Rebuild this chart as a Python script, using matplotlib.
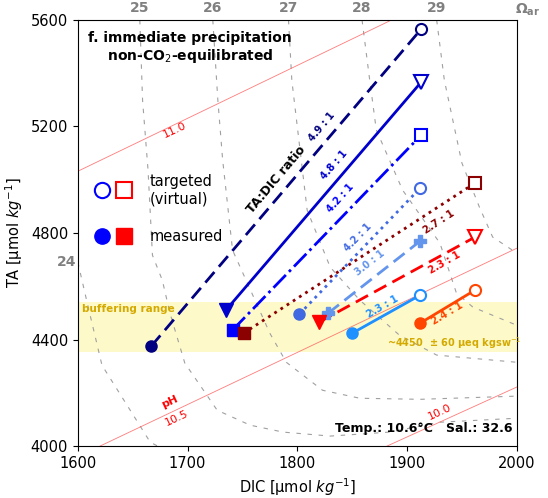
import numpy as np
import matplotlib
matplotlib.use("Agg")
import matplotlib.pyplot as plt

# measured (start) and targeted (end) points, DIC / TA in umol/kg
ratio_labels = ["4.9 : 1", "4.8 : 1", "4.2 : 1", "2.7 : 1", "4.2 : 1",
                "3.0 : 1", "2.3 : 1", "2.3 : 1", "2.4 : 1"]
dic_meas = [1667, 1735, 1741, 1751, 1802, 1828, 1820, 1850, 1912]
ta_meas = [4376, 4511, 4436, 4424, 4496, 4499, 4466, 4424, 4462]
dic_targ = [1913, 1913, 1913, 1962, 1912, 1912, 1962, 1912, 1962]
ta_targ = [5566, 5367, 5168, 4988, 4969, 4770, 4785, 4567, 4586]

colors = ["navy", "mediumblue", "blue", "darkred", "royalblue",
          "cornflowerblue", "red", "dodgerblue", "orangered"]
styles = [(0, (5, 2.5)), "-", "-.", ":", ":", (0, (5, 2.5)), (0, (5, 2.5)), "-", "-"]
markers = ["o", "v", "s", "s", "o", "P", "v", "o", "o"]
open_end = [True, True, True, True, True, False, True, True, True]

# label placement along each line (DIC, TA, rotation)
lab_pos = [(1822, 5198, 50), (1834, 5055, 49), (1839, 4931, 48), (1929, 4843, 33),
           (1855, 4785, 46), (1866, 4687, 38), (1934, 4687, 30), (1878, 4522, 30),
           (1937, 4499, 31)]

# aragonite saturation isolines
omega_levels = [24, 25, 26, 27, 28, 29]
omega_dic = [
    [1600, 1608, 1622, 1666, 1673],
    [1656.5, 1659, 1664, 1668, 1677, 1684, 1697.5, 1727, 1757, 1787, 1830, 1884, 1930, 2000],
    [1723, 1727.6, 1732, 1741, 1775, 1790, 1823, 1857, 1912, 2000],
    [1792, 1795, 1809, 1830, 1857, 1893, 1927, 2000],
    [1859, 1866, 1872, 1896, 1930, 1945, 1960, 2000],
    [1927, 1934, 1950, 1966, 1978, 2000],
]
omega_ta = [
    [4691, 4548, 4304, 4015, 4000],
    [5600, 5299, 5036, 4717, 4623, 4499, 4312, 4135, 4079, 4053, 4038, 4053, 4090, 4105],
    [5600, 5299, 5074, 4736, 4424, 4315, 4210, 4180, 4176, 4188],
    [5600, 5374, 4886, 4672, 4548, 4417, 4342, 4315],
    [5600, 5374, 5187, 4961, 4762, 4575, 4522, 4454],
    [5600, 5374, 5063, 4897, 4785, 4725],
]

# pH isolines (end points)
ph_levels = ["11.0", "10.5", "10.0"]
ph_dic = [[1600, 1886], [1620, 2000], [1881.5, 2000]]
ph_ta = [[5032, 5600], [4000, 4743], [4000, 4222]]
ph_lab = [(1688, 5187), (1690, 4105), (1930, 4128)]

buffer_lo, buffer_hi = 4355, 4540

fig = plt.figure(figsize=(5.48, 4.98), dpi=100)
ax = fig.add_axes([0.142, 0.104, 0.801, 0.856])

ax.axhspan(buffer_lo, buffer_hi, color="#fdf9c9", zorder=0, lw=0)

for xs, ys in zip(omega_dic, omega_ta):
    ax.plot(xs, ys, color="#a0a0a0", lw=0.8, ls=(0, (4, 6)), zorder=1)

for xs, ys in zip(ph_dic, ph_ta):
    ax.plot(xs, ys, color="#ff5a5a", lw=0.6, alpha=0.8, zorder=1)
for lab, (x, y) in zip(ph_levels, ph_lab):
    ax.text(x, y, lab, color="red", fontsize=8, rotation=25,
            ha="center", va="center")
ax.text(1684, 4168, "pH", color="red", fontsize=8, fontweight="bold",
        rotation=25, ha="center", va="center")

for i in range(len(dic_meas)):
    c = colors[i]
    ax.plot([dic_meas[i], dic_targ[i]], [ta_meas[i], ta_targ[i]],
            color=c, ls=styles[i], lw=2, zorder=3)
    ms = 10 if markers[i] == "v" else 8
    ax.plot(dic_meas[i], ta_meas[i], marker=markers[i], color=c, ms=ms, zorder=4)
    if open_end[i]:
        ax.plot(dic_targ[i], ta_targ[i], marker=markers[i], mfc="white",
                mec=c, mew=1.5, ms=ms, zorder=4)
    else:
        ax.plot(dic_targ[i], ta_targ[i], marker=markers[i], color=c, ms=ms, zorder=4)
    x, y, r = lab_pos[i]
    ax.text(x, y, ratio_labels[i], color=c, fontsize=7, fontweight="bold",
            rotation=r, ha="center", va="center", zorder=5)

ax.text(1781, 4999, "TA:DIC ratio", fontsize=9, fontweight="bold",
        rotation=50, ha="center", va="center")

# legend drawn by hand
ax.plot(0.055, 0.601, "o", mfc="white", mec="blue", mew=1.5, ms=11, transform=ax.transAxes)
ax.plot(0.105, 0.601, "s", mfc="white", mec="red", mew=1.5, ms=11, transform=ax.transAxes)
ax.plot(0.055, 0.493, "o", color="blue", ms=11, transform=ax.transAxes)
ax.plot(0.105, 0.493, "s", color="red", ms=11, transform=ax.transAxes)
ax.text(0.164, 0.601, "targeted\n(virtual)", fontsize=10.5, va="center", transform=ax.transAxes)
ax.text(0.164, 0.493, "measured", fontsize=10.5, va="center", transform=ax.transAxes)

ax.text(0.023, 0.975, "f. immediate precipitation\n    non-CO$_2$-equilibrated",
        fontsize=10, fontweight="bold", va="top", transform=ax.transAxes)
ax.text(0.01, 4514, "buffering range", color="#d4aa00", fontsize=7.5,
        fontweight="bold", va="center", transform=ax.get_yaxis_transform())
ax.text(1881.5, 4387, "~4450  ± 60 µeq kgsw$^{-1}$", color="#d4aa00", fontsize=7,
        fontweight="bold", va="center")
ax.text(0.99, 0.027, "Temp.: 10.6°C   Sal.: 32.6", fontsize=9, fontweight="bold",
        ha="right", va="bottom", transform=ax.transAxes)

# omega labels along top edge
for lev, xs in zip(omega_levels[1:], omega_dic[1:]):
    ax.text(xs[0], 1.012, str(lev), color="gray", fontsize=10, fontweight="bold",
            ha="center", va="bottom", transform=ax.get_xaxis_transform())
ax.text(0.997, 1.024, r"$\mathbf{\Omega_{ar}}$", color="gray", fontsize=10,
        ha="left", va="center", transform=ax.transAxes)
ax.text(-0.004, omega_ta[0][0], "24", color="gray", fontsize=10, fontweight="bold",
        ha="right", va="center", transform=ax.get_yaxis_transform())

ax.set_xlim(1600, 2000)
ax.set_ylim(4000, 5600)
ax.set_xticks([1600, 1700, 1800, 1900, 2000])
ax.set_yticks([4000, 4400, 4800, 5200, 5600])
ax.tick_params(labelsize=10.5)
ax.set_xlabel("DIC [µmol $kg^{-1}$]", fontsize=10.5)
ax.set_ylabel("TA [µmol $kg^{-1}$]", fontsize=10.5)

fig.savefig("out.png", dpi=100)
